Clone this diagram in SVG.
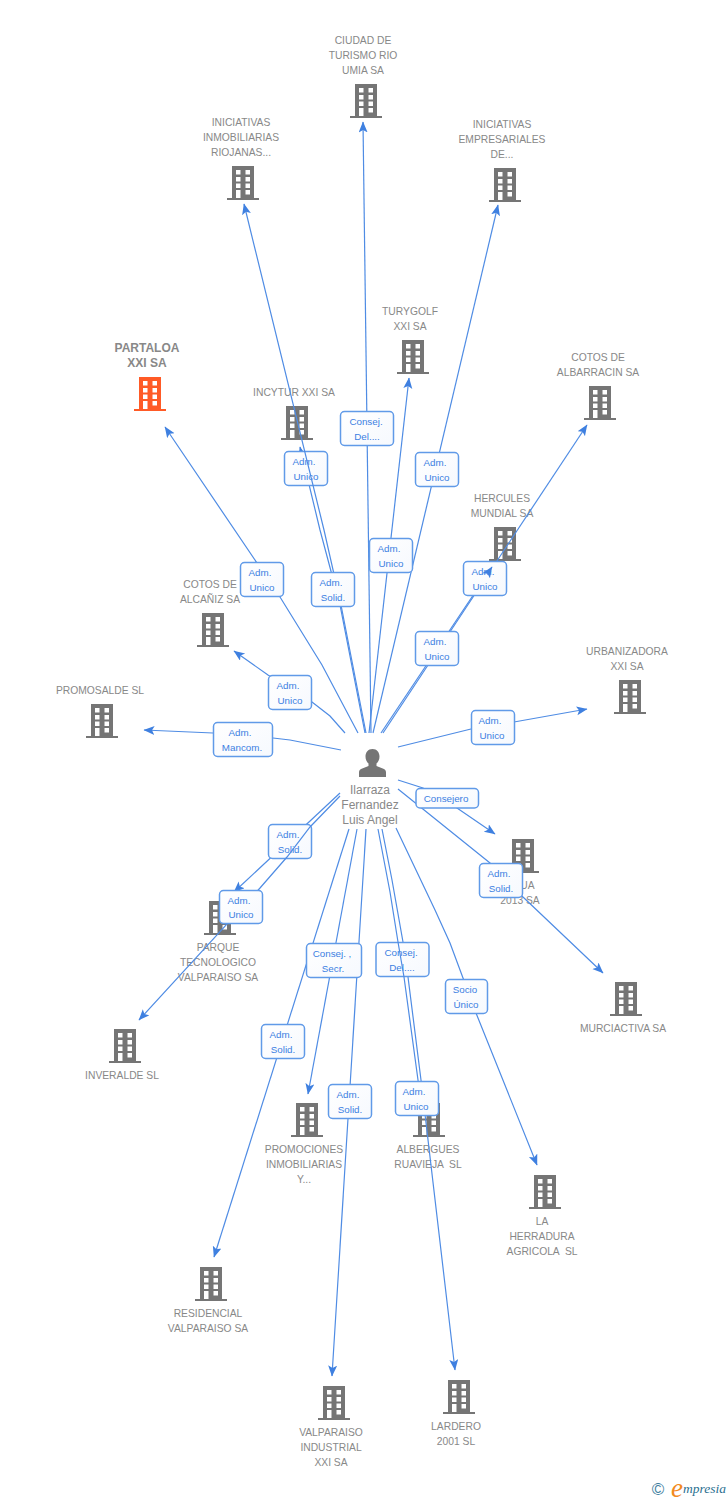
<svg xmlns="http://www.w3.org/2000/svg" width="728" height="1500" viewBox="0 0 728 1500">
<style>
text{font-family:"Liberation Sans",Arial,sans-serif}
.n{font-size:10.3px;fill:#888;text-anchor:middle}
.p{font-size:12px;fill:#888;text-anchor:middle}
.m{font-size:12px;fill:#888;text-anchor:middle;font-weight:bold}
.g{fill:#757575}
.o{fill:#ff5a26}
.c{stroke:#4f8ce4;stroke-width:1.2;fill:none;marker-end:url(#a)}
.d{stroke:#4f8ce4;stroke-width:1.2;fill:none}
.b{fill:url(#f);stroke:#609ae8;stroke-width:1.5}
.t{font-size:9.800px;fill:#3b80e2;text-anchor:middle}
</style>
<defs>
<linearGradient id="f" x1="0" y1="0" x2="1" y2="1"><stop offset="0" stop-color="#fff"/><stop offset="1" stop-color="#f6f9fe"/></linearGradient>
<marker id="a" markerUnits="userSpaceOnUse" markerWidth="12" markerHeight="10" refX="10.500" refY="4.500" orient="auto">
<path d="M0,0L11,4.500L0,9L2.500,4.500z" fill="#3f80e0"/>
</marker>
<path id="h" fill-rule="evenodd" d="M-11,0H11V32H16V34H-16V32H-11ZM-7,4V8.500H-2.500V4ZM2.500,4V8.500H7V4ZM-7,11V15.500H-2.500V11ZM2.500,11V15.500H7V11ZM-7,17.500V22H-2.500V17.500ZM2.500,17.500V22H7V17.500ZM-7,24V32H-2.500V24ZM2.500,24V28.500H7V24Z"/>
</defs>
<g id="node-partaloa"><text class="m" x="147" y="352">PARTALOA</text><text class="m" x="147" y="367">XXI SA</text><use href="#h" class="o" x="150" y="377"/></g>
<g id="node-ciudad"><text class="n" x="363" y="44">CIUDAD DE</text><text class="n" x="363" y="59">TURISMO RIO</text><text class="n" x="363" y="74">UMIA SA</text><use href="#h" class="g" x="366" y="84"/></g>
<g id="node-riojanas"><text class="n" x="241" y="126">INICIATIVAS</text><text class="n" x="241" y="141">INMOBILIARIAS</text><text class="n" x="241" y="156">RIOJANAS...</text><use href="#h" class="g" x="243" y="166"/></g>
<g id="node-empresariales"><text class="n" x="502" y="128">INICIATIVAS</text><text class="n" x="502" y="143">EMPRESARIALES</text><text class="n" x="502" y="158">DE...</text><use href="#h" class="g" x="505" y="168"/></g>
<g id="node-turygolf"><text class="n" x="410" y="315">TURYGOLF</text><text class="n" x="410" y="330">XXI SA</text><use href="#h" class="g" x="413" y="340"/></g>
<g id="node-albarracin"><text class="n" x="598" y="361">COTOS DE</text><text class="n" x="598" y="376">ALBARRACIN SA</text><use href="#h" class="g" x="600" y="386"/></g>
<g id="node-incytur"><text class="n" x="294" y="396">INCYTUR XXI SA</text><use href="#h" class="g" x="297" y="406"/></g>
<g id="node-hercules"><text class="n" x="502" y="502">HERCULES</text><text class="n" x="502" y="517">MUNDIAL SA</text><use href="#h" class="g" x="505" y="527"/></g>
<g id="node-alcaniz"><text class="n" x="210" y="588">COTOS DE</text><text class="n" x="210" y="603">ALCAÑIZ SA</text><use href="#h" class="g" x="213" y="613"/></g>
<g id="node-promosalde"><text class="n" x="100" y="694">PROMOSALDE SL</text><use href="#h" class="g" x="102" y="704"/></g>
<g id="node-urbanizadora"><text class="n" x="627" y="655">URBANIZADORA</text><text class="n" x="627" y="670">XXI SA</text><use href="#h" class="g" x="630" y="680"/></g>
<g id="node-agua"><use href="#h" class="g" x="523" y="839"/><text class="n" x="520" y="889">AGUA</text><text class="n" x="520" y="904">2013 SA</text></g>
<g id="node-murciactiva"><use href="#h" class="g" x="626" y="982"/><text class="n" x="623" y="1032">MURCIACTIVA SA</text></g>
<g id="node-parque"><use href="#h" class="g" x="220" y="901"/><text class="n" x="218" y="951">PARQUE</text><text class="n" x="218" y="966">TECNOLOGICO</text><text class="n" x="218" y="981">VALPARAISO SA</text></g>
<g id="node-inveralde"><use href="#h" class="g" x="125" y="1029"/><text class="n" x="122" y="1079">INVERALDE SL</text></g>
<g id="node-promociones"><use href="#h" class="g" x="307" y="1103"/><text class="n" x="304" y="1153">PROMOCIONES</text><text class="n" x="304" y="1168">INMOBILIARIAS</text><text class="n" x="304" y="1183">Y...</text></g>
<g id="node-albergues"><use href="#h" class="g" x="429" y="1103"/><text class="n" x="428" y="1153">ALBERGUES</text><text class="n" x="428" y="1168" xml:space="preserve">RUAVIEJA  SL</text></g>
<g id="node-herradura"><use href="#h" class="g" x="545" y="1175"/><text class="n" x="542" y="1225">LA</text><text class="n" x="542" y="1240">HERRADURA</text><text class="n" x="542" y="1255" xml:space="preserve">AGRICOLA  SL</text></g>
<g id="node-residencial"><use href="#h" class="g" x="211" y="1267"/><text class="n" x="208" y="1317">RESIDENCIAL</text><text class="n" x="208" y="1332">VALPARAISO SA</text></g>
<g id="node-valparaiso"><use href="#h" class="g" x="334" y="1386"/><text class="n" x="331" y="1436">VALPARAISO</text><text class="n" x="331" y="1451">INDUSTRIAL</text><text class="n" x="331" y="1466">XXI SA</text></g>
<g id="node-lardero"><use href="#h" class="g" x="459" y="1380"/><text class="n" x="456" y="1430">LARDERO</text><text class="n" x="456" y="1445">2001 SL</text></g>
<g id="node-person"><path class="g" d="M372.500,749c-4.500,0-7,3.500-7,7.500c0,3,1.200,5.500,3,7v2.500l-7.500,3c-1.500,.7-2,2-2,3.500v4.500h27v-4.500c0-1.500-.5-2.800-2-3.500l-7.500-3v-2.500c1.800-1.500,3-4,3-7c0-4-2.500-7.500-7-7.500z"/><text class="p" x="370" y="794">Ilarraza</text><text class="p" x="370" y="809">Fernandez</text><text class="p" x="370" y="824">Luis Angel</text></g>
<g id="connectors">
<polyline class="c" points="365,733 340,605 320,530 300,447"/>
<rect class="b" x="284.500" y="451.500" width="43" height="34" rx="4"/><text class="t" x="304" y="465">Adm.</text><text class="t" x="306" y="480">Unico</text>
<polyline class="c" points="366,733 341,605 324,530 244,204"/>
<line class="c" x1="371" y1="733" x2="363" y2="122"/>
<line class="c" x1="373" y1="733" x2="498" y2="205"/>
<line class="c" x1="369" y1="733" x2="409" y2="378"/>
<line class="c" x1="383" y1="733" x2="587" y2="425"/>
<line class="d" x1="381" y1="733" x2="492" y2="567"/>
<polyline class="c" points="358,733 322,665 280,597 165,427"/>
<polyline class="c" points="345,733 330,716 312,702 268,675 234,651"/>
<polyline class="c" points="341,750 290,740 273,738 213,733 144,730"/>
<polyline class="c" points="398,747 471,729 514,722 587,709"/>
<polyline class="c" points="398,780 423,788 457,808 495,834"/>
<polyline class="c" points="398,789 490,863 523,897 603,973"/>
<line class="c" x1="340" y1="793" x2="234" y2="892"/>
<line class="c" x1="349" y1="829" x2="214" y2="1257"/>
<line class="c" x1="357" y1="829" x2="308" y2="1094"/>
<line class="c" x1="366" y1="829" x2="332" y2="1376"/>
<polyline class="c" points="382,829 392,880 403,942 408,977 421,1080 455,1370"/>
<polyline class="c" points="396,828 435,910 450,943 476,1013 537,1165"/>
<rect class="b" x="268.500" y="824.500" width="43" height="34" rx="4"/><text class="t" x="288" y="838">Adm.</text><text class="t" x="290" y="853">Solid.</text>
<polyline class="c" points="340,796 310,827 287,857 260,888 139,1020"/>
<rect class="b" x="340.500" y="411.500" width="53" height="34" rx="4"/><text class="t" x="366" y="425">Consej.</text><text class="t" x="367" y="440">Del....</text>
<rect class="b" x="415.500" y="452.500" width="43" height="34" rx="4"/><text class="t" x="435" y="466">Adm.</text><text class="t" x="437" y="481">Unico</text>
<rect class="b" x="369.500" y="538.500" width="43" height="34" rx="4"/><text class="t" x="389" y="552">Adm.</text><text class="t" x="391" y="567">Unico</text>
<rect class="b" x="311.500" y="572.500" width="43" height="34" rx="4"/><text class="t" x="331" y="586">Adm.</text><text class="t" x="333" y="601">Solid.</text>
<rect class="b" x="240.500" y="562.500" width="43" height="34" rx="4"/><text class="t" x="260" y="576">Adm.</text><text class="t" x="262" y="591">Unico</text>
<rect class="b" x="463.500" y="561.500" width="43" height="34" rx="4"/><text class="t" x="483" y="575">Adm.</text><text class="t" x="485" y="590">Unico</text>
<line class="c" x1="490" y1="570" x2="492" y2="567"/>
<rect class="b" x="415.500" y="631.500" width="43" height="34" rx="4"/><text class="t" x="435" y="645">Adm.</text><text class="t" x="437" y="660">Unico</text>
<rect class="b" x="268.500" y="675.500" width="43" height="34" rx="4"/><text class="t" x="288" y="689">Adm.</text><text class="t" x="290" y="704">Unico</text>
<rect class="b" x="213.500" y="722.500" width="59" height="34" rx="4"/><text class="t" x="240" y="736">Adm.</text><text class="t" x="242" y="751">Mancom.</text>
<rect class="b" x="471.500" y="710.500" width="43" height="34" rx="4"/><text class="t" x="490" y="724">Adm.</text><text class="t" x="492" y="739">Unico</text>
<rect class="b" x="416" y="788.500" width="62.500" height="19.500" rx="4"/><text class="t" x="446" y="802">Consejero</text>
<rect class="b" x="479.500" y="863.500" width="43" height="34" rx="4"/><text class="t" x="499" y="877">Adm.</text><text class="t" x="501" y="892">Solid.</text>
<rect class="b" x="219.500" y="890.500" width="43" height="33" rx="4"/><text class="t" x="239" y="904">Adm.</text><text class="t" x="241" y="918">Unico</text>
<rect class="b" x="306.500" y="943.500" width="55" height="34" rx="4"/><text class="t" x="332" y="957">Consej. ,</text><text class="t" x="333" y="972">Secr.</text>
<rect class="b" x="376" y="942.500" width="53" height="34" rx="4"/><text class="t" x="401" y="956">Consej.</text><text class="t" x="402" y="971">Del....</text>
<polyline class="d" points="378,829 390,892 398,942 404,977 418,1080 421,1103"/>
<rect class="b" x="445.500" y="979.500" width="42" height="34" rx="4"/><text class="t" x="465" y="993">Socio</text><text class="t" x="466" y="1008">Único</text>
<rect class="b" x="261.500" y="1024.500" width="43" height="34" rx="4"/><text class="t" x="281" y="1038">Adm.</text><text class="t" x="283" y="1053">Solid.</text>
<rect class="b" x="328.500" y="1084.500" width="43" height="34" rx="4"/><text class="t" x="348" y="1098">Adm.</text><text class="t" x="350" y="1113">Solid.</text>
<rect class="b" x="395.500" y="1081.500" width="43" height="34" rx="4"/><text class="t" x="414" y="1095">Adm.</text><text class="t" x="416" y="1110">Unico</text>
</g>
<g id="logo"><text x="658" y="1495" font-size="17" fill="#3f7f9f" text-anchor="middle">©</text><text x="671" y="1497" font-size="27" font-style="italic" fill="#f28a1e" style="font-family:'Liberation Serif',serif">e</text><text x="683" y="1493" font-size="13.500" font-style="italic" fill="#2b6f8f" style="font-family:'Liberation Serif',serif">mpresia</text></g>
</svg>
